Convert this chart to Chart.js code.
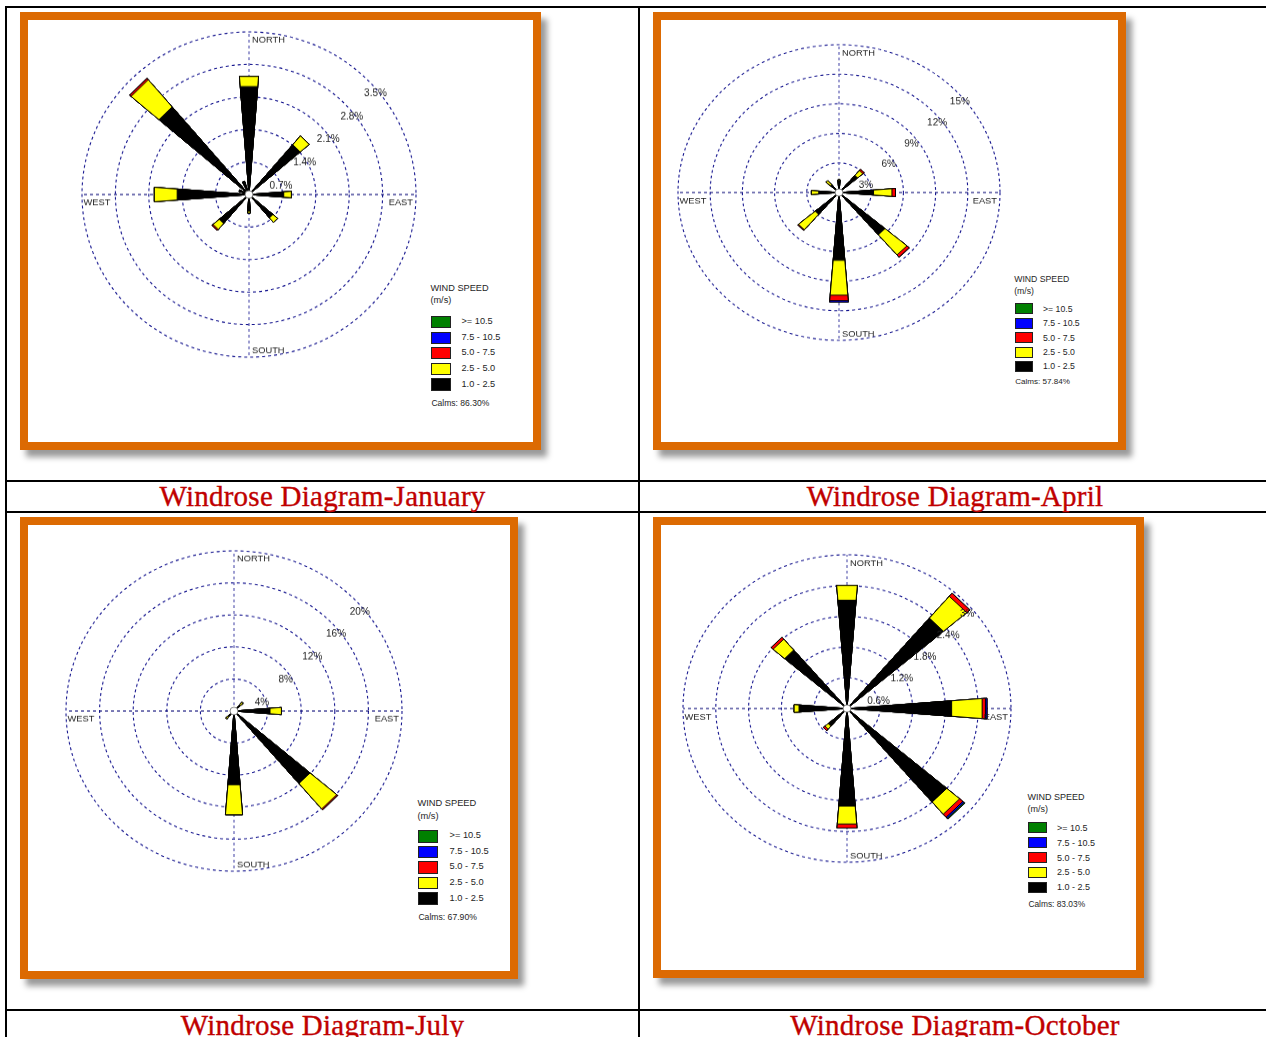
<!DOCTYPE html>
<html>
<head>
<meta charset="utf-8">
<title>Windrose Diagrams</title>
<script src="https://cdn.jsdelivr.net/npm/chart.js@4.4.1/dist/chart.umd.min.js"></script>
<style>
  html, body { margin: 0; padding: 0; background: #fff; }
  body { width: 1266px; height: 1037px; position: relative; overflow: hidden;
         font-family: "Liberation Sans", Arial, sans-serif; }
  .rule { position: absolute; background: #000; }
  .frame { position: absolute; box-sizing: border-box; border: 8px solid #DC6A02; background: #fff;
           box-shadow: 6px 7px 6px rgba(0,0,0,0.4); }
  .rose { position: absolute; }
  .caption { position: absolute; height: 30px; line-height: 30px; text-align: center;
             font-family: "Liberation Serif", "Times New Roman", serif; font-size: 29px;
             color: #C00000; letter-spacing: 0.25px; white-space: nowrap;
             -webkit-text-stroke: 0.35px #C00000; }
  .lg-text { position: absolute; white-space: nowrap; line-height: 1; color: #1e1e1e;
             transform: translateY(-50%); }
  .lg-box { position: absolute; box-sizing: border-box; border: 1px solid #222; }
</style>
</head>
<body>
<script>
// Direction sectors, clockwise from north
const DIRECTIONS = ['N','NNE','NE','ENE','E','ESE','SE','SSE','S','SSW','SW','WSW','W','WNW','NW','NNW'];
// Wind speed classes (m/s), slowest first
const SPEED_BANDS = ['1.0 - 2.5', '2.5 - 5.0', '5.0 - 7.5', '7.5 - 10.5', '>= 10.5'];
const BAND_COLORS = ['#000000', '#ffff00', '#ff0000', '#0000ff', '#008000'];

// January: frequency (%) per direction for each speed class
const janBand1 = [2.33, 0, 1.41, 0, 0.73, 0, 0.66, 0, 0.36, 0, 0.82, 0, 1.51, 0.22, 2.48, 0.30];
const janBand2 = [0.22, 0, 0.25, 0, 0.16, 0, 0.13, 0, 0.04, 0, 0.17, 0, 0.48, 0, 0.77, 0];
const janBand3 = [0, 0, 0, 0, 0, 0, 0, 0, 0, 0, 0.03, 0, 0, 0, 0.04, 0];
const janBand4 = [0, 0, 0, 0, 0, 0, 0, 0, 0, 0, 0, 0, 0, 0, 0, 0];
const janBand5 = [0, 0, 0, 0, 0, 0, 0, 0, 0, 0, 0, 0, 0, 0, 0, 0];
const janRings = [0.7, 1.4, 2.1, 2.8, 3.5];
const janRingLabels = ['0.7%', '1.4%', '2.1%', '2.8%', '3.5%'];
const janCalms = 86.30;

// April
const aprBand1 = [1.20, 0, 2.28, 0, 3.23, 0, 5.64, 0, 6.90, 0, 2.92, 0, 1.89, 0, 1.00, 0];
const aprBand2 = [0.10, 0, 0.65, 0, 1.72, 0, 2.68, 0, 3.55, 0, 2.05, 0, 0.69, 0, 0.60, 0];
const aprBand3 = [0, 0, 0.16, 0, 0.33, 0, 0.30, 0, 0.55, 0, 0.08, 0, 0, 0, 0, 0];
const aprBand4 = [0, 0, 0, 0, 0, 0, 0, 0, 0.15, 0, 0, 0, 0, 0, 0, 0];
const aprBand5 = [0, 0, 0, 0, 0, 0, 0, 0, 0, 0, 0, 0, 0, 0, 0, 0];
const aprRings = [3, 6, 9, 12, 15];
const aprRingLabels = ['3%', '6%', '9%', '12%', '15%'];
const aprCalms = 57.84;

// July
const julBand1 = [0, 0, 1.00, 0, 4.30, 0, 11.91, 0, 9.23, 0, 0.90, 0, 0, 0, 0, 0];
const julBand2 = [0, 0, 0.45, 0, 1.36, 0, 4.17, 0, 3.76, 0, 0.40, 0, 0, 0, 0, 0];
const julBand3 = [0, 0, 0, 0, 0, 0, 0.15, 0, 0, 0, 0, 0, 0, 0, 0, 0];
const julBand4 = [0, 0, 0, 0, 0, 0, 0, 0, 0, 0, 0, 0, 0, 0, 0, 0];
const julBand5 = [0, 0, 0, 0, 0, 0, 0, 0, 0, 0, 0, 0, 0, 0, 0, 0];
const julRings = [4, 8, 12, 16, 20];
const julRingLabels = ['4%', '8%', '12%', '16%', '20%'];
const julCalms = 67.90;

// October
const octBand1 = [2.12, 0, 2.32, 0, 1.92, 0, 2.40, 0, 1.91, 0, 0.45, 0, 0.88, 0, 1.50, 0];
const octBand2 = [0.29, 0, 0.56, 0, 0.56, 0, 0.31, 0, 0.35, 0, 0.08, 0, 0.09, 0, 0.28, 0];
const octBand3 = [0, 0, 0.08, 0, 0.06, 0, 0.08, 0, 0.08, 0, 0.04, 0, 0, 0, 0.05, 0];
const octBand4 = [0, 0, 0, 0, 0.03, 0, 0.03, 0, 0, 0, 0, 0, 0, 0, 0, 0];
const octBand5 = [0, 0, 0, 0, 0, 0, 0.02, 0, 0, 0, 0, 0, 0, 0, 0, 0];
const octRings = [0.6, 1.2, 1.8, 2.4, 3.0];
const octRingLabels = ['0.6%', '1.2%', '1.8%', '2.4%', '3%'];
const octCalms = 83.03;

// ---- geometry of the petals ----
const WEDGE_DEG = 9;                                  // angular width of a petal
const GAP_DEG = 360 / DIRECTIONS.length - WEDGE_DEG;  // empty space between petals
const HALF = WEDGE_DEG / 2;
const ANGLE_SLOTS = Math.round(360 / HALF);           // radial-scale spokes, one every half petal
const slotOf = deg => Math.round((deg + HALF) / HALF) % ANGLE_SLOTS;
const COMPASS = [['NORTH', 0], ['EAST', 90], ['SOUTH', 180], ['WEST', 270]];
const COMPASS_SLOTS = COMPASS.map(c => slotOf(c[1]));
const spokeLabels = Array.from({ length: ANGLE_SLOTS }, (_, j) => {
  const c = COMPASS.find(k => slotOf(k[1]) === j);
  return c ? c[0] : '';
});

const PANELS = [
  { name: 'January', bands: [janBand1, janBand2, janBand3, janBand4, janBand5],
    rings: janRings, ringLabels: janRingLabels, calms: janCalms,
    frame: [20, 12, 521, 438], rose: { cx: 248.5, cy: 194.8, rx: 167, ry: 162.5 },
    legend: { x: 431.4, titleY: 288.7, unitY: 301.3, boxTop: 316, pitch: 15.6, boxW: 20, boxH: 12.3, labelX: 461.5, calmsY: 403, font: 9.2 },
    caption: [7, 481, 631] },
  { name: 'April', bands: [aprBand1, aprBand2, aprBand3, aprBand4, aprBand5],
    rings: aprRings, ringLabels: aprRingLabels, calms: aprCalms,
    frame: [653, 12, 473, 438], rose: { cx: 839.2, cy: 192.5, rx: 161, ry: 148 },
    legend: { x: 1015.2, titleY: 278.7, unitY: 290.7, boxTop: 303.3, pitch: 14.4, boxW: 18.2, boxH: 11, labelX: 1043, calmsY: 382, font: 8.7 },
    caption: [640, 481, 630] },
  { name: 'July', bands: [julBand1, julBand2, julBand3, julBand4, julBand5],
    rings: julRings, ringLabels: julRingLabels, calms: julCalms,
    frame: [20, 517, 498, 462], rose: { cx: 234, cy: 711, rx: 168, ry: 160 },
    legend: { x: 418.4, titleY: 804.4, unitY: 816.8, boxTop: 830, pitch: 15.6, boxW: 19.2, boxH: 12.5, labelX: 449.5, calmsY: 916.5, font: 9.3 },
    caption: [7, 1010, 631] },
  { name: 'October', bands: [octBand1, octBand2, octBand3, octBand4, octBand5],
    rings: octRings, ringLabels: octRingLabels, calms: octCalms,
    frame: [653, 517, 491, 461], rose: { cx: 846.5, cy: 708.3, rx: 164, ry: 153.5 },
    legend: { x: 1028.4, titleY: 797, unitY: 809, boxTop: 822.3, pitch: 14.85, boxW: 18.6, boxH: 11.2, labelX: 1057, calmsY: 904, font: 9.0 },
    caption: [640, 1010, 630] }
];

function el(tag, cls, style) {
  const e = document.createElement(tag);
  if (cls) e.className = cls;
  Object.assign(e.style, style || {});
  document.body.appendChild(e);
  return e;
}
const px = v => v + 'px';

// ---- table rules ----
[[5, 6, 1270, 2], [5, 6, 2, 1040], [638, 6, 2, 1040],
 [5, 480, 1270, 2], [5, 511, 1270, 2], [5, 1009, 1270, 2]].forEach(r =>
  el('div', 'rule', { left: px(r[0]), top: px(r[1]), width: px(r[2]), height: px(r[3]) }));

// ---- text layer drawn on top of the petals ----
function roseTextPlugin(panel, squash) {
  return {
    id: 'roseText',
    afterDatasetsDraw(chart) {
      const sc = chart.scales.r;
      const ctx = chart.ctx;
      const R = sc.drawingArea;
      const xc = sc.xCenter, yc = sc.yCenter;
      ctx.save();
      // calm circle at the hub
      ctx.beginPath();
      ctx.arc(xc, yc, 4, 0, Math.PI * 2);
      ctx.fillStyle = '#ffffff';
      ctx.fill();
      ctx.lineWidth = 0.8;
      ctx.strokeStyle = '#666';
      ctx.stroke();
      // ring percentages along the north-east diagonal
      ctx.fillStyle = '#222';
      ctx.textBaseline = 'middle';
      ctx.textAlign = 'left';
      ctx.font = '10px "Liberation Sans", Arial, sans-serif';
      panel.rings.forEach((v, i) => {
        const d = sc.getDistanceFromCenterForValue(v) * Math.SQRT1_2;
        ctx.fillText(panel.ringLabels[i], xc + d - 3, yc - d + 14 / squash);
      });
      // compass names
      ctx.fillStyle = '#1a1a1a';
      ctx.font = '9.3px "Liberation Sans", Arial, sans-serif';
      ctx.fillText('NORTH', xc + 3, yc - R + 8.5 / squash);
      ctx.fillText('SOUTH', xc + 3, yc + R - 6 / squash);
      ctx.fillText('WEST', xc - R + 1.5, yc + 8.5 / squash);
      ctx.textAlign = 'right';
      ctx.fillText('EAST', xc + R - 3, yc + 8.5 / squash);
      ctx.restore();
    }
  };
}

function buildRose(panel) {
  const g = panel.rose;
  const pad = 4;
  const R = Math.round(g.rx);
  const D = 2 * R + 2 * pad;
  const squash = g.ry / g.rx;
  const canvas = el('canvas', 'rose', {
    width: px(D), height: px(D * squash),
    left: px(Math.round(g.cx - pad - R)), top: px(g.cy - (pad + R) * squash)
  });
  canvas.width = D;
  canvas.height = D;

  // stacked petals: each class drawn as the running total, slowest on top
  const datasets = panel.bands.map((band, b) => {
    const data = [];
    DIRECTIONS.forEach((_, d) => {
      let total = 0;
      for (let k = 0; k <= b; k++) total += panel.bands[k][d];
      data.push(Math.round(total * 1000) / 1000, 0);
    });
    return {
      label: SPEED_BANDS[b],
      data,
      backgroundColor: BAND_COLORS[b],
      borderColor: '#000000',
      borderWidth: c => (c.raw > 0 ? 1 : 0),
      angle: c => (c.dataIndex % 2 === 0 ? WEDGE_DEG : GAP_DEG),
      circular: false
    };
  });

  new Chart(canvas, {
    type: 'polarArea',
    data: { labels: spokeLabels, datasets },
    options: {
      responsive: false,
      animation: false,
      events: [],
      layout: { padding: pad },
      plugins: { legend: { display: false }, tooltip: { enabled: false } },
      scales: {
        r: {
          min: 0,
          max: panel.rings[panel.rings.length - 1],
          startAngle: -HALF,
          afterBuildTicks: sc => { sc.ticks = [0].concat(panel.rings).map(v => ({ value: v })); },
          ticks: { display: false },
          grid: { circular: true, color: '#16168f', lineWidth: 1.1, borderDash: [3, 3] },
          border: { dash: [3, 3] },
          angleLines: {
            display: true,
            color: c => (c.index === COMPASS_SLOTS[1] || c.index === COMPASS_SLOTS[3]) ? '#0a0a78' : '#5050ac',
            lineWidth: c => (COMPASS_SLOTS.includes(c.index) ? 1.1 : 0),
            borderDash: [3, 3]
          },
          pointLabels: { display: false }
        }
      }
    },
    plugins: [roseTextPlugin(panel, squash)]
  });
}

function buildLegend(panel) {
  const L = panel.legend;
  const text = (t, x, y, size) => {
    const e = el('div', 'lg-text', { left: px(x), top: px(y), fontSize: px(size) });
    e.textContent = t;
  };
  text('WIND SPEED', L.x - 1, L.titleY, L.font);
  text('(m/s)', L.x - 1, L.unitY, L.font);
  for (let i = 0; i < SPEED_BANDS.length; i++) {
    const b = SPEED_BANDS.length - 1 - i;
    const top = L.boxTop + i * L.pitch;
    el('div', 'lg-box', { left: px(L.x), top: px(top), width: px(L.boxW), height: px(L.boxH),
                          background: BAND_COLORS[b] });
    text(SPEED_BANDS[b], L.labelX, top + L.boxH / 2, L.font);
  }
  text('Calms: ' + panel.calms.toFixed(2) + '%', L.x, L.calmsY, L.font * 0.93);
}

PANELS.forEach(panel => {
  const f = panel.frame;
  el('div', 'frame', { left: px(f[0]), top: px(f[1]), width: px(f[2]), height: px(f[3]) });
  buildRose(panel);
  buildLegend(panel);
  const c = panel.caption;
  const cap = el('div', 'caption', { left: px(c[0]), top: px(c[1]), width: px(c[2]) });
  cap.textContent = 'Windrose Diagram-' + panel.name;
});
</script>
</body>
</html>
